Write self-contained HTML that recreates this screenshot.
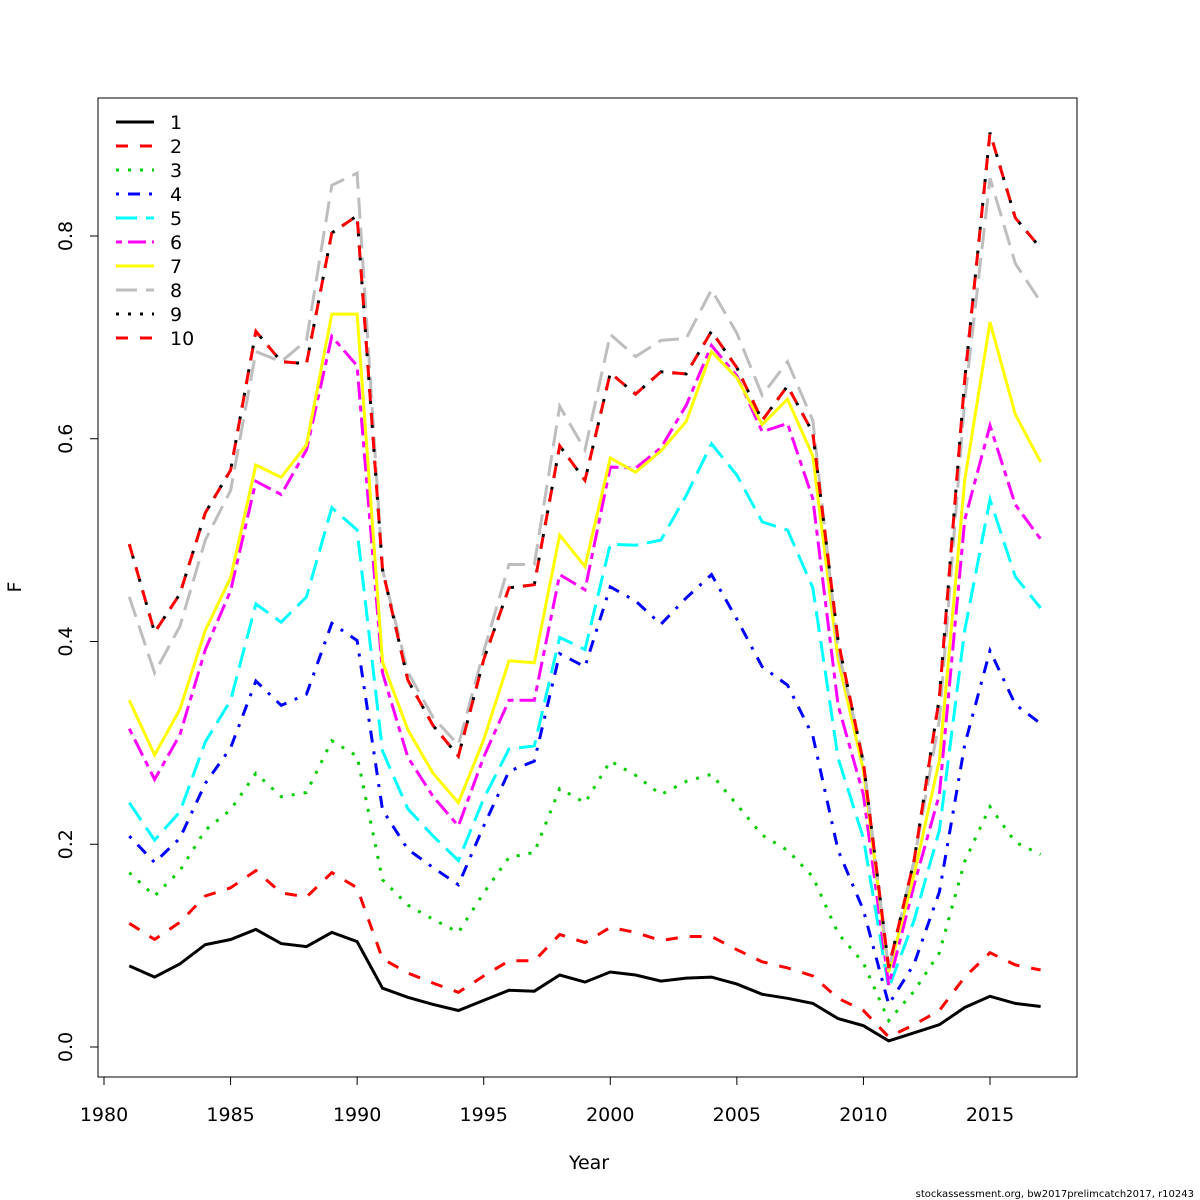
<!DOCTYPE html>
<html><head><meta charset="utf-8"><style>
html,body{margin:0;padding:0;background:#fff;}
svg{display:block;font-family:"DejaVu Sans","Liberation Sans",sans-serif;}
</style></head><body>
<svg id="chart" width="1200" height="1200" viewBox="0 0 1200 1200">
<rect x="0" y="0" width="1200" height="1200" fill="#fff"/>
<g id="series"></g>
<rect x="98" y="98" width="979" height="979" fill="none" stroke="#000" stroke-width="1"/>
<g id="xaxis"></g>
<g id="yaxis"></g>
<text x="589" y="1169" font-size="19" text-anchor="middle">Year</text>
<text x="21" y="587" font-size="19" text-anchor="middle" transform="rotate(-90 21 587)">F</text>
<text x="1194" y="1197" font-size="10" text-anchor="end">stockassessment.org, bw2017prelimcatch2017, r10243</text>
<g id="legend"></g>
</svg>
<script>
const years = [];
for (let y = 1981; y <= 2017; y++) years.push(y);
const xTicks = [1980,1985,1990,1995,2000,2005,2010,2015];
const yTicks = [0.0,0.2,0.4,0.6,0.8];
const yTickLabels = ["0.0","0.2","0.4","0.6","0.8"];
const seriesNames = ["1","2","3","4","5","6","7","8","9","10"];
const f1 = [0.080,0.069,0.082,0.101,0.106,0.116,0.102,0.099,0.113,0.104,0.058,0.049,0.042,0.036,0.046,0.056,0.055,0.071,0.064,0.074,0.071,0.065,0.068,0.069,0.062,0.052,0.048,0.043,0.028,0.021,0.006,0.014,0.022,0.039,0.050,0.043,0.040];
const f2 = [0.122,0.106,0.123,0.149,0.157,0.174,0.152,0.148,0.172,0.157,0.087,0.073,0.063,0.054,0.070,0.085,0.085,0.111,0.103,0.118,0.113,0.105,0.109,0.109,0.096,0.084,0.078,0.070,0.048,0.036,0.010,0.022,0.036,0.069,0.093,0.081,0.076];
const f3 = [0.172,0.149,0.174,0.214,0.234,0.270,0.247,0.251,0.302,0.287,0.165,0.140,0.126,0.113,0.152,0.187,0.192,0.255,0.241,0.282,0.268,0.249,0.262,0.269,0.239,0.209,0.194,0.168,0.112,0.083,0.026,0.055,0.093,0.183,0.237,0.202,0.190];
const f4 = [0.208,0.182,0.206,0.260,0.295,0.361,0.337,0.348,0.418,0.401,0.234,0.195,0.177,0.160,0.218,0.272,0.282,0.388,0.375,0.454,0.440,0.417,0.443,0.466,0.422,0.375,0.357,0.307,0.194,0.135,0.042,0.082,0.153,0.298,0.391,0.338,0.319];
const f5 = [0.241,0.204,0.232,0.301,0.342,0.437,0.419,0.444,0.532,0.510,0.292,0.235,0.208,0.184,0.245,0.294,0.297,0.404,0.392,0.496,0.495,0.500,0.544,0.595,0.564,0.518,0.510,0.453,0.285,0.206,0.058,0.125,0.214,0.411,0.540,0.464,0.433];
const f6 = [0.314,0.264,0.308,0.392,0.450,0.558,0.545,0.589,0.701,0.672,0.369,0.286,0.247,0.218,0.286,0.342,0.342,0.466,0.451,0.572,0.571,0.591,0.633,0.692,0.662,0.607,0.615,0.541,0.337,0.249,0.061,0.160,0.249,0.520,0.613,0.535,0.501];
const f7 = [0.342,0.288,0.333,0.411,0.463,0.574,0.562,0.594,0.723,0.723,0.380,0.313,0.270,0.241,0.303,0.381,0.379,0.505,0.474,0.581,0.567,0.588,0.617,0.686,0.660,0.614,0.639,0.583,0.382,0.273,0.074,0.170,0.283,0.559,0.715,0.624,0.577];
const f8 = [0.444,0.369,0.415,0.500,0.549,0.686,0.676,0.697,0.850,0.862,0.471,0.370,0.325,0.298,0.390,0.476,0.476,0.632,0.589,0.703,0.681,0.697,0.699,0.747,0.704,0.643,0.676,0.618,0.392,0.283,0.076,0.184,0.323,0.638,0.857,0.773,0.735];
const f9 = [0.496,0.409,0.447,0.527,0.569,0.706,0.676,0.674,0.803,0.820,0.471,0.362,0.317,0.287,0.382,0.453,0.456,0.593,0.559,0.665,0.644,0.666,0.664,0.706,0.670,0.618,0.652,0.606,0.401,0.280,0.078,0.184,0.345,0.658,0.902,0.818,0.788];
const f10 = [0.496,0.409,0.447,0.527,0.569,0.706,0.676,0.674,0.803,0.820,0.471,0.362,0.317,0.287,0.382,0.453,0.456,0.593,0.559,0.665,0.644,0.666,0.664,0.706,0.670,0.618,0.652,0.606,0.401,0.280,0.078,0.184,0.345,0.658,0.902,0.818,0.788];
const allSeries = [f1,f2,f3,f4,f5,f6,f7,f8,f9,f10];
const colors = ["#000000","#ff0000","#00cd00","#0000ff","#00ffff","#ff00ff","#ffff00","#bebebe","#000000","#ff0000"];
const dashes = ["","12 12","3 9","3 9 12 9","21 9","6 6 18 6","","21 9","3 9","12 12"];

const NS = "http://www.w3.org/2000/svg";
function xScale(v){ return 104 + (v - 1980) * (886/35); }
function yScale(v){ return 1047 - v * 1013.75; }

const sg = document.getElementById("series");
allSeries.forEach((s, i) => {
  const p = document.createElementNS(NS, "polyline");
  p.setAttribute("points", s.map((v, j) => xScale(years[j]).toFixed(1) + "," + yScale(v).toFixed(1)).join(" "));
  p.setAttribute("fill", "none");
  p.setAttribute("stroke", colors[i]);
  p.setAttribute("stroke-width", "3");
  if (dashes[i]) p.setAttribute("stroke-dasharray", dashes[i]);
  
  
  sg.appendChild(p);
});

const xg = document.getElementById("xaxis");
const xl = document.createElementNS(NS, "line");
xl.setAttribute("x1", xScale(1980)); xl.setAttribute("x2", xScale(2015));
xl.setAttribute("y1", 1077); xl.setAttribute("y2", 1077);
xl.setAttribute("stroke", "#000");


xg.appendChild(xl);
xTicks.forEach(t => {
  const l = document.createElementNS(NS, "line");
  l.setAttribute("x1", xScale(t)); l.setAttribute("x2", xScale(t));
  l.setAttribute("y1", 1077); l.setAttribute("y2", 1085); l.setAttribute("stroke", "#000");
  
  
  xg.appendChild(l);
  const tx = document.createElementNS(NS, "text");
  tx.setAttribute("x", xScale(t)); tx.setAttribute("y", 1121);
  tx.setAttribute("font-size", "19"); tx.setAttribute("text-anchor", "middle");
  tx.textContent = t;
  
  
  xg.appendChild(tx);
});

const yg = document.getElementById("yaxis");
const yl = document.createElementNS(NS, "line");
yl.setAttribute("x1", 98); yl.setAttribute("x2", 98);
yl.setAttribute("y1", yScale(0)); yl.setAttribute("y2", yScale(0.8));
yl.setAttribute("stroke", "#000");


yg.appendChild(yl);
yTicks.forEach((t, i) => {
  const l = document.createElementNS(NS, "line");
  l.setAttribute("x1", 90); l.setAttribute("x2", 98);
  l.setAttribute("y1", yScale(t)); l.setAttribute("y2", yScale(t)); l.setAttribute("stroke", "#000");
  
  
  yg.appendChild(l);
  const tx = document.createElementNS(NS, "text");
  const y = yScale(t);
  tx.setAttribute("x", 72); tx.setAttribute("y", y);
  tx.setAttribute("font-size", "19"); tx.setAttribute("text-anchor", "middle");
  tx.setAttribute("transform", "rotate(-90 72 " + y + ")");
  tx.textContent = yTickLabels[i];
  
  
  yg.appendChild(tx);
});

const lg = document.getElementById("legend");
seriesNames.forEach((n, i) => {
  const y = 122 + i * 24;
  const l = document.createElementNS(NS, "line");
  l.setAttribute("x1", 116); l.setAttribute("x2", 154);
  l.setAttribute("y1", y); l.setAttribute("y2", y);
  l.setAttribute("stroke", colors[i]); l.setAttribute("stroke-width", "3");
  if (dashes[i]) l.setAttribute("stroke-dasharray", dashes[i]);
  
  
  lg.appendChild(l);
  const tx = document.createElementNS(NS, "text");
  tx.setAttribute("x", 170); tx.setAttribute("y", y + 7);
  tx.setAttribute("font-size", "19");
  tx.textContent = n;
  
  
  lg.appendChild(tx);
});
</script>
</body></html>
